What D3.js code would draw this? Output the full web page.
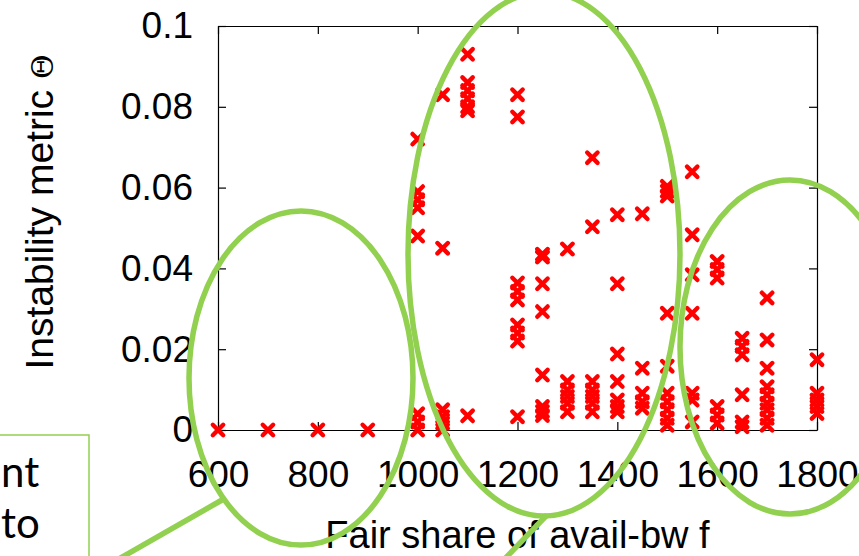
<!DOCTYPE html>
<html>
<head>
    <meta charset="utf-8" />
    <title>Instability metric vs fair share</title>
    <style>
        body { margin: 0; background: #fff; }
        .axis text { font-family: "Liberation Sans", Arial, sans-serif; font-size: 37px; fill: #000; }
        .axis path, .axis line { stroke: #000; stroke-width: 1.2px; }
        .mark { fill: none; stroke: #ff0000; stroke-width: 4.4px; stroke-linecap: round; }
        .note { fill: none; stroke: #92d050; stroke-width: 5.5px; }
    </style>
    <script src="https://cdn.jsdelivr.net/npm/d3@7"></script>
</head>
<body>
<script>
    // fair share columns (x) and the instability values measured at each one
    var fairShare = [600, 700, 800, 900, 1000, 1050, 1100, 1200, 1250, 1300, 1350, 1400, 1450, 1500, 1550, 1600, 1650, 1700, 1800];
    var instability = [
        [0],
        [0],
        [0],
        [0],
        [0.072, 0.059, 0.057, 0.055, 0.048, 0.004, 0.002, 0],
        [0.083, 0.045, 0.005, 0.0033, 0.0017, 0],
        [0.093, 0.086, 0.084, 0.082, 0.080, 0.079, 0.0035],
        [0.083, 0.0775, 0.0364, 0.0343, 0.0322, 0.026, 0.024, 0.022, 0.0033],
        [0.0435, 0.0428, 0.0362, 0.0293, 0.0136, 0.0058, 0.0046, 0.0036],
        [0.0448, 0.012, 0.0099, 0.0083, 0.0066, 0.0045],
        [0.0674, 0.0503, 0.012, 0.0099, 0.0083, 0.0066, 0.0045],
        [0.0533, 0.0362, 0.0188, 0.012, 0.0074, 0.0058, 0.0045],
        [0.0535, 0.0153, 0.0091, 0.007, 0.0054],
        [0.0603, 0.0591, 0.0579, 0.0289, 0.0158, 0.0091, 0.007, 0.005, 0.0029, 0.0012],
        [0.0639, 0.0483, 0.0384, 0.0289, 0.0091, 0.0074, 0.002],
        [0.0417, 0.0397, 0.0376, 0.0058, 0.0037, 0.0017],
        [0.0227, 0.0207, 0.0186, 0.0087, 0.002, 0.0008],
        [0.0327, 0.0223, 0.0153, 0.0107, 0.0087, 0.0066, 0.005, 0.0029, 0.0012],
        [0.0174, 0.0091, 0.0074, 0.0058, 0.0041]
    ];
    var xTicks = [600, 800, 1000, 1200, 1400, 1600, 1800];
    var yTicks = [0, 0.02, 0.04, 0.06, 0.08, 0.1];
    var yTickLabels = ['0', '0.02', '0.04', '0.06', '0.08', '0.1'];
    var xLabel = 'Fair share of avail-bw f';
    var yLabel = 'Instability metric ';
    var calloutLines = ['nt', 'to'];

    var W = 859, H = 556;
    var margin = { top: 26, right: 42, bottom: 126, left: 218 };
    var width = W - margin.left - margin.right,
        height = H - margin.top - margin.bottom;

    var x = d3.scaleLinear().domain([600, 1800]).range([0, width]);
    var y = d3.scaleLinear().domain([0, 0.1]).range([height, 0]);

    var svg = d3.select('body').append('svg')
        .attr('width', W)
        .attr('height', H);

    svg.append('rect').attr('width', W).attr('height', H).attr('fill', '#fff');

    var g = svg.append('g')
        .attr('transform', 'translate(' + margin.left + ',' + margin.top + ')');

    // axes, ticks point inwards and are mirrored on top / right
    g.append('g').attr('class', 'axis')
        .attr('transform', 'translate(0,' + height + ')')
        .call(d3.axisBottom(x).tickValues(xTicks).tickSizeInner(-8).tickSizeOuter(0).tickPadding(31).tickFormat(d3.format('d')));
    g.append('g').attr('class', 'axis')
        .call(d3.axisTop(x).tickValues(xTicks).tickSizeInner(-8).tickSizeOuter(0).tickFormat(''));
    g.append('g').attr('class', 'axis')
        .call(d3.axisLeft(y).tickValues(yTicks).tickSizeInner(-8).tickSizeOuter(0).tickPadding(25)
            .tickFormat(function(d, i) { return yTickLabels[i]; }));
    g.append('g').attr('class', 'axis')
        .attr('transform', 'translate(' + width + ',0)')
        .call(d3.axisRight(y).tickValues(yTicks).tickSizeInner(-8).tickSizeOuter(0).tickFormat(''));

    // flatten columns into points
    var points = [];
    fairShare.forEach(function(f, i) {
        instability[i].forEach(function(v) { points.push({ f: f, v: v }); });
    });

    var cross = d3.symbol().type(d3.symbolX).size(72);
    g.selectAll('.mark')
        .data(points)
        .enter().append('path')
        .attr('class', 'mark')
        .attr('transform', function(d) { return 'translate(' + x(d.f) + ',' + y(d.v) + ')'; })
        .attr('d', cross);

    // axis titles
    svg.append('text')
        .attr('x', margin.left + width / 2)
        .attr('y', 548)
        .attr('text-anchor', 'middle')
        .style('font-family', '"Liberation Sans", Arial, sans-serif')
        .style('font-size', '38px')
        .text(xLabel);

    var yt = svg.append('text')
        .attr('transform', 'translate(53,212) rotate(-90)')
        .attr('text-anchor', 'middle')
        .style('font-family', '"Liberation Sans", Arial, sans-serif')
        .style('font-size', '39px')
        .text(yLabel);
    yt.append('tspan')
        .attr('font-family', '"DejaVu Serif", serif')
        .attr('font-size', 30)
        .style('font-size', '30px')
        .style('font-family', '"DejaVu Serif", serif')
        .text('Θ');

    // slide annotations drawn over the chart
    var notes = svg.append('g');
    notes.append('ellipse').attr('class', 'note')
        .attr('cx', 301).attr('cy', 378).attr('rx', 112).attr('ry', 167);
    notes.append('ellipse').attr('class', 'note')
        .attr('cx', 544).attr('cy', 254).attr('rx', 136).attr('ry', 262);
    notes.append('ellipse').attr('class', 'note')
        .attr('cx', 790).attr('cy', 347).attr('rx', 110).attr('ry', 167);
    notes.append('line').attr('class', 'note')
        .attr('x1', 222).attr('y1', 500).attr('x2', 96).attr('y2', 572);
    notes.append('line').attr('class', 'note')
        .attr('x1', 547).attr('y1', 515).attr('x2', 494).attr('y2', 570);

    notes.append('rect')
        .attr('x', -10).attr('y', 435).attr('width', 99).attr('height', 200)
        .attr('fill', '#fff')
        .attr('stroke', '#92d050')
        .attr('stroke-width', 1.5);
    notes.selectAll('.callout')
        .data(calloutLines)
        .enter().append('text')
        .attr('class', 'callout')
        .attr('x', 1)
        .attr('y', function(d, i) { return 487 + i * 51; })
        .style('font-family', 'Lato, "Open Sans", sans-serif')
        .style('font-size', '42px')
        .style('fill', '#000')
        .text(function(d) { return d; });
</script>
</body>
</html>
